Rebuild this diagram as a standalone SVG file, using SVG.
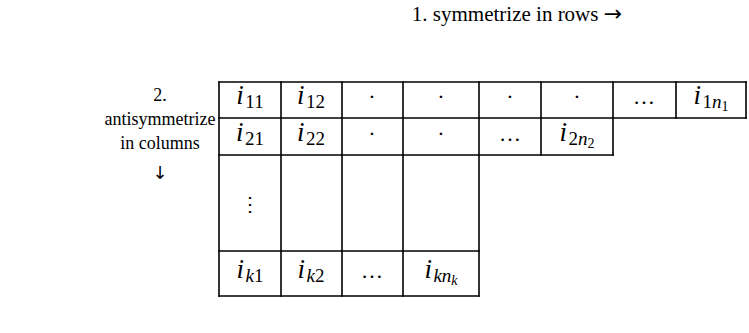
<svg xmlns="http://www.w3.org/2000/svg" width="749" height="333" viewBox="0 0 749 333">
<style>
.t{font-family:"Liberation Serif","Times New Roman",serif;font-size:21px;fill:#000;text-anchor:middle}
.l{font-family:"Liberation Serif","Times New Roman",serif;font-size:18px;fill:#000;text-anchor:middle}
.ar{font-family:"DejaVu Sans",sans-serif;font-weight:normal}
.m{font-family:"Liberation Serif","Times New Roman",serif;font-size:27px;font-style:italic;fill:#000;text-anchor:middle}
.s{font-size:19px;font-style:normal}
.si{font-size:19px;font-style:italic}
.ss{font-size:14px;font-style:normal}
.ssi{font-size:14px;font-style:italic}
.d{font-family:"Liberation Serif","Times New Roman",serif;font-size:22px;fill:#000;text-anchor:middle}
.g{fill:none;stroke:#000;stroke-width:1.6;stroke-linecap:square}
</style>
<rect width="749" height="333" fill="#fff"/>
<g id="title"><text class="t" x="517" y="21">1. symmetrize in rows <tspan class="ar" font-size="22">→</tspan></text></g>
<g id="sidelabel">
<text class="l" x="160" y="101">2.</text>
<text class="l" x="160" y="125">antisymmetrize</text>
<text class="l" x="160" y="149">in columns</text>
<text class="l ar" x="160" y="179" font-size="24">↓</text>
</g>
<g id="grid">
<path class="g" d="M219,82H746M219,118H746M219,155H613M219,251H479M219,296H479"/>
<path class="g" d="M219,82V296M281,82V296M342,82V296M403,82V296M541,82V155M613,82V155M676,82V118M746,82V118"/>
<path class="g" d="M479,82V296" stroke-width="2.4"/>
</g>
<g id="row1">
<text class="m" x="250" y="104">i<tspan class="s" dx="1.5" dy="4">11</tspan></text>
<text class="m" x="311" y="104">i<tspan class="s" dx="1.5" dy="4">12</tspan></text>
<text class="d" x="372" y="104">·</text>
<text class="d" x="441" y="104">·</text>
<text class="d" x="510" y="104">·</text>
<text class="d" x="577" y="104">·</text>
<text class="d" x="644" y="104">…</text>
<text class="m" x="711" y="104">i<tspan class="s" dx="1.5" dy="4">1</tspan><tspan class="si">n</tspan><tspan class="ss" dy="3">1</tspan></text>
</g>
<g id="row2">
<text class="m" x="250" y="141">i<tspan class="s" dx="1.5" dy="4">21</tspan></text>
<text class="m" x="311" y="141">i<tspan class="s" dx="1.5" dy="4">22</tspan></text>
<text class="d" x="372" y="141">·</text>
<text class="d" x="441" y="141">·</text>
<text class="d" x="510" y="141">…</text>
<text class="m" x="577" y="141">i<tspan class="s" dx="1.5" dy="4">2</tspan><tspan class="si">n</tspan><tspan class="ss" dy="3">2</tspan></text>
</g>
<g id="row3">
<text x="250" y="211" style="font-family:'DejaVu Serif',serif;font-size:20px;text-anchor:middle">⋮</text>
</g>
<g id="row4">
<text class="m" x="250" y="278">i<tspan class="si" dx="1.5" dy="4">k</tspan><tspan class="s">1</tspan></text>
<text class="m" x="311" y="278">i<tspan class="si" dx="1.5" dy="4">k</tspan><tspan class="s">2</tspan></text>
<text class="d" x="372" y="278">…</text>
<text class="m" x="441" y="278">i<tspan class="si" dx="1.5" dy="4">kn</tspan><tspan class="ssi" dy="3">k</tspan></text>
</g>
</svg>
